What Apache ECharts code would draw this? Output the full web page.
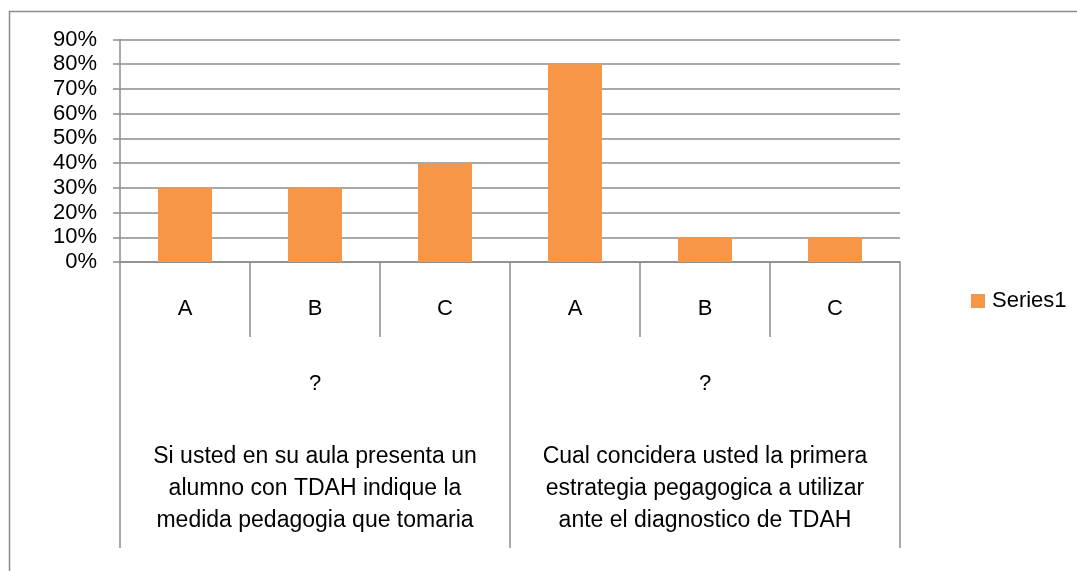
<!DOCTYPE html>
<html>
<head>
<meta charset="utf-8">
<script src="https://cdn.jsdelivr.net/npm/echarts@6/dist/echarts.min.js"></script>
<style>
html,body{margin:0;padding:0;background:#fff;}
#chart{width:1077px;height:571px;}
</style>
</head>
<body>
<div id="chart"></div>
<script>
// ---- data ----
const categories = ['A', 'B', 'C', 'A', 'B', 'C'];
const questionLabels = ['?', '?'];
const groupTitles = [
  'Si usted en su aula presenta un\nalumno con TDAH indique la\nmedida pedagogia que tomaria',
  'Cual concidera usted la primera\nestrategia pegagogica a utilizar\nante el diagnostico de TDAH'
];
const series1 = [30, 30, 40, 80, 10, 10];
const seriesName = 'Series1';

// ---- chart ----
const FONT = 'Liberation Sans';
const GRAY = '#8c8c8c';
const chart = echarts.init(document.getElementById('chart'), null, {renderer: 'canvas'});
chart.setOption({
  animation: false,
  backgroundColor: '#ffffff',
  textStyle: {fontFamily: FONT, color: '#000'},
  graphic: [{
    type: 'rect',
    shape: {x: 9.5, y: 11.5, width: 1100, height: 620},
    style: {fill: 'none', stroke: GRAY, lineWidth: 1.5},
    silent: true, z: -10
  }],
  grid: {left: 120, right: 177, top: 39.5, bottom: 309, containLabel: false},
  legend: {
    left: 966, top: 285,
    itemWidth: 14, itemHeight: 14, itemGap: 10,
    icon: 'rect',
    textStyle: {fontFamily: FONT, fontSize: 22, color: '#000', padding: [0, 0, 0, 2]},
    data: [seriesName]
  },
  yAxis: {
    type: 'value', min: 0, max: 90, interval: 10,
    axisLine: {show: true, lineStyle: {color: GRAY, width: 1.5}},
    axisTick: {show: true, length: 7, lineStyle: {color: GRAY, width: 1.5}},
    splitLine: {show: true, lineStyle: {color: GRAY, width: 1.5}},
    axisLabel: {formatter: '{value}%', fontFamily: FONT, fontSize: 22, color: '#000', margin: 23}
  },
  xAxis: [
    {
      type: 'category', data: categories, position: 'bottom',
      axisLine: {show: true, lineStyle: {color: GRAY, width: 1.5}},
      axisTick: {show: true, length: 75, interval: 0, lineStyle: {color: GRAY, width: 1.5}},
      axisLabel: {interval: 0, fontFamily: FONT, fontSize: 22, color: '#000', margin: 36}
    },
    {
      type: 'category', data: questionLabels, position: 'bottom', gridIndex: 0,
      axisLine: {show: false},
      axisTick: {show: true, length: 286, interval: 0, lineStyle: {color: GRAY, width: 1.5}},
      axisLabel: {interval: 0, fontFamily: FONT, fontSize: 22, color: '#000', margin: 111}
    },
    {
      type: 'category', data: groupTitles, position: 'bottom', gridIndex: 0,
      axisLine: {show: false},
      axisTick: {show: false},
      axisLabel: {interval: 0, fontFamily: FONT, fontSize: 23, lineHeight: 32, color: '#000', margin: 179, align: 'center'}
    }
  ],
  series: [{
    name: seriesName, type: 'bar', data: series1,
    xAxisIndex: 0, yAxisIndex: 0,
    barWidth: '41.5%',
    itemStyle: {color: '#F79646'}
  }]
});
</script>
</body>
</html>
